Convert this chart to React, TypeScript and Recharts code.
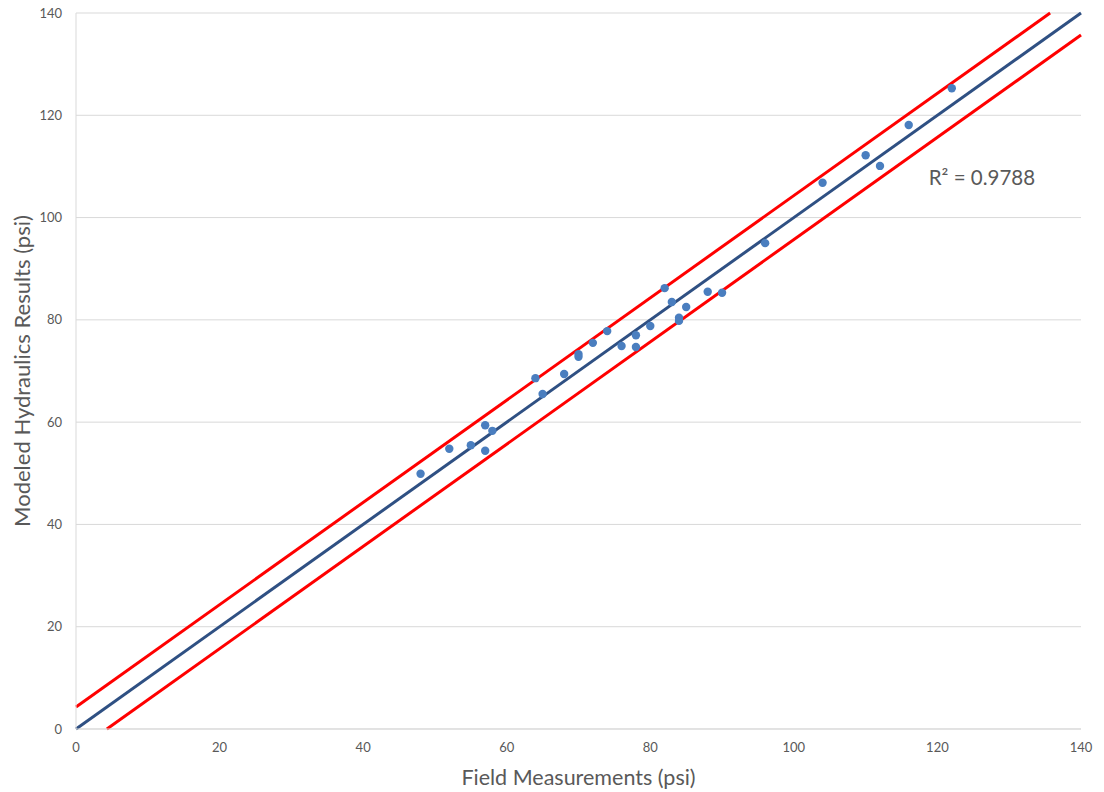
import React from "react";
import {
  ScatterChart,
  Scatter,
  XAxis,
  YAxis,
  CartesianGrid,
  ReferenceLine,
  ReferenceDot,
} from "recharts";

// field measurement vs modeled result (psi)
const fieldPsi = [
  48, 52, 55, 57, 58, 57, 64, 65, 68, 70, 70, 72, 74, 76, 78, 78, 80, 82, 83,
  85, 84, 84, 88, 90, 96, 104, 110, 112, 116, 122,
];
const modeledPsi = [
  49.9, 54.8, 55.5, 59.4, 58.3, 54.4, 68.6, 65.5, 69.4, 73.3, 72.8, 75.5, 77.8,
  74.9, 77.0, 74.7, 78.8, 86.2, 83.5, 82.5, 80.4, 79.8, 85.5, 85.3, 95.0, 106.8,
  112.2, 110.1, 118.1, 125.3,
];

const ticks = [0, 20, 40, 60, 80, 100, 120, 140];

// line endpoints: 1:1 line and the +/- band
const fitLine = [
  { x: 0, y: 0 },
  { x: 140, y: 140 },
];
const upperBand = [
  { x: 0, y: 4.3 },
  { x: 135.7, y: 140 },
];
const lowerBand = [
  { x: 4.3, y: 0 },
  { x: 140, y: 135.7 },
];

const rSquared = "R² = 0.9788";

const points = fieldPsi.map((x, i) => ({ x, y: modeledPsi[i] }));

const grey = "#595959";
const font = "Lato, 'Open Sans', sans-serif";

export default function App() {
  return (
    <div style={{ position: "absolute", left: 0, top: 0, background: "#fff" }}>
      <ScatterChart
        width={1104}
        height={792}
        margin={{ top: 13, right: 23, bottom: 0, left: 0 }}
        style={{ fontFamily: font }}
      >
        <CartesianGrid vertical={false} stroke="#d9d9d9" />
        <XAxis
          type="number"
          dataKey="x"
          domain={[0, 140]}
          ticks={ticks}
          height={63}
          tickLine={false}
          tickMargin={8}
          axisLine={{ stroke: "#d9d9d9" }}
          tick={{ fill: grey, fontSize: 13 }}
          label={{
            value: "Field Measurements (psi)",
            position: "insideBottom",
            offset: 7,
            fill: grey,
            fontSize: 21.5,
          }}
        />
        <YAxis
          type="number"
          dataKey="y"
          domain={[0, 140]}
          ticks={ticks}
          width={76}
          tickLine={false}
          tickMargin={8}
          axisLine={{ stroke: "#d9d9d9" }}
          tick={{ fill: grey, fontSize: 13 }}
          label={{
            value: "Modeled Hydraulics Results (psi)",
            angle: -90,
            position: "center",
            dx: -16,
            dy: 0,
            fill: grey,
            fontSize: 22,
          }}
        />
        <ReferenceLine segment={upperBand} stroke="#ff0000" strokeWidth={3} />
        <ReferenceLine segment={lowerBand} stroke="#ff0000" strokeWidth={3} />
        <ReferenceLine segment={fitLine} stroke="#2f5083" strokeWidth={3} />
        <Scatter
          data={points}
          isAnimationActive={false}
          shape={(p: any) => (
            <circle cx={p.cx} cy={p.cy} r={4.2} fill="#4a7ebf" />
          )}
        />
        <ReferenceDot
          x={126.2}
          y={107.7}
          r={0}
          fill="none"
          stroke="none"
          label={{ value: rSquared, position: "center", fill: grey, fontSize: 20.5 }}
        />
      </ScatterChart>
    </div>
  );
}
